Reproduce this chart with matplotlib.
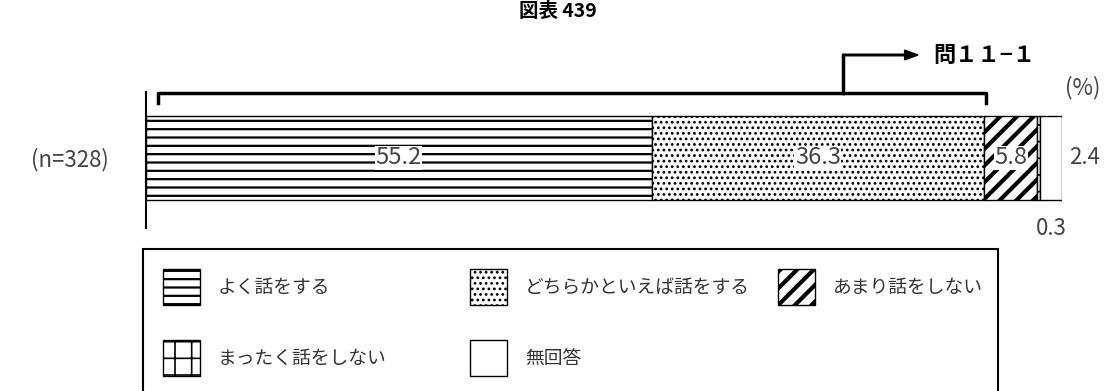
import matplotlib
matplotlib.use("Agg")
import matplotlib.pyplot as plt
from matplotlib.patches import Rectangle, FancyArrow

plt.rcParams['font.family'] = ['Noto Sans CJK JP', 'DejaVu Sans']
plt.rcParams['hatch.linewidth'] = 1.5

categories = ["よく話をする", "どちらかといえば話をする", "あまり話をしない", "まったく話をしない", "無回答"]
values = [55.2, 36.3, 5.8, 0.3, 2.4]
hatches = ["--", "...", "//", "+", ""]
hatch_lw = [1.6, 1.2, 3.0, 1.2, 1.0]
row_label = "(n=328)"

W, H = 1116, 391
fig = plt.figure(figsize=(W / 100, H / 100), dpi=100)

def fx(px):
    return px / W

def fy(py):
    return 1 - py / H

def set_hlw(p, lw):
    if hasattr(p, "set_hatch_linewidth"):
        p.set_hatch_linewidth(lw)

ax = fig.add_axes([fx(146), fy(228), fx(1062) - fx(146), fy(92) - fy(228)])
ax.set_xlim(0, 100)
ax.set_ylim(0, 1)
for s in ["top", "right", "bottom"]:
    ax.spines[s].set_visible(False)
ax.spines["left"].set_linewidth(1.5)
ax.set_xticks([])
ax.set_yticks([])

left = 0
for cat, v, h, lw in zip(categories, values, hatches, hatch_lw):
    bars = ax.barh(0.515, v, left=left, height=0.62, color="white", edgecolor="black",
                   linewidth=1.0, hatch=h)
    for p in bars:
        set_hlw(p, lw)
    if v >= 5:
        ax.text(left + v / 2, 0.515, f"{v:.1f}", ha="center", va="center", fontsize=17,
                color="#444444", bbox=dict(facecolor="white", edgecolor="none", pad=0.3))
    left += v

ax.text(100 + 0.8, 0.515, f"{values[4]:.1f}", ha="left", va="center", fontsize=16, color="#444444")
ax.text(98.8, 0.0, f"{values[3]:.1f}", ha="center", va="center", fontsize=16, color="#444444")

fig.text(fx(70), fy(160), row_label, ha="center", va="center", fontsize=16, color="#444444")

# title and bracket
fig.text(fx(558), fy(11), "図表 439", ha="center", va="center", fontsize=14, fontweight="bold")
fig.text(fx(1083), fy(88), "(%)", ha="center", va="center", fontsize=16, color="#444444")
fig.text(fx(933), fy(55), "問１１−１", ha="left", va="center", fontsize=16, fontweight="bold")

fig.add_artist(plt.Line2D([fx(158), fx(158), fx(986), fx(986)],
                          [fy(103), fy(93), fy(93), fy(103)], color="black", lw=2.5))
fig.add_artist(plt.Line2D([fx(843), fx(843)], [fy(93), fy(55)], color="black", lw=2.5))
fig.patches.append(FancyArrow(fx(843), fy(55), fx(918) - fx(843), 0,
                              width=0.004, head_width=0.025, head_length=0.012,
                              length_includes_head=True, color="black",
                              transform=fig.transFigure, figure=fig))

# legend box (runs off the bottom of the picture)
fig.patches.append(Rectangle((fx(143), fy(420)), fx(998) - fx(143), fy(249) - fy(420),
                             facecolor="none", edgecolor="black", lw=1.5,
                             transform=fig.transFigure, figure=fig))
col_x = [163, 470, 778]
row_y = [287, 358]
for k in range(len(categories)):
    r, c = divmod(k, 3)
    x0, yc = col_x[c], row_y[r]
    p = Rectangle((fx(x0), fy(yc + 18)), fx(37), fy(0) - fy(36),
                  facecolor="white", edgecolor="black", lw=1.0, hatch=hatches[k],
                  transform=fig.transFigure, figure=fig)
    set_hlw(p, hatch_lw[k])
    fig.patches.append(p)
    fig.text(fx(x0 + 55), fy(yc), categories[k], ha="left", va="center",
             fontsize=13.5, color="#333333")

fig.savefig("out.png", dpi=100)
